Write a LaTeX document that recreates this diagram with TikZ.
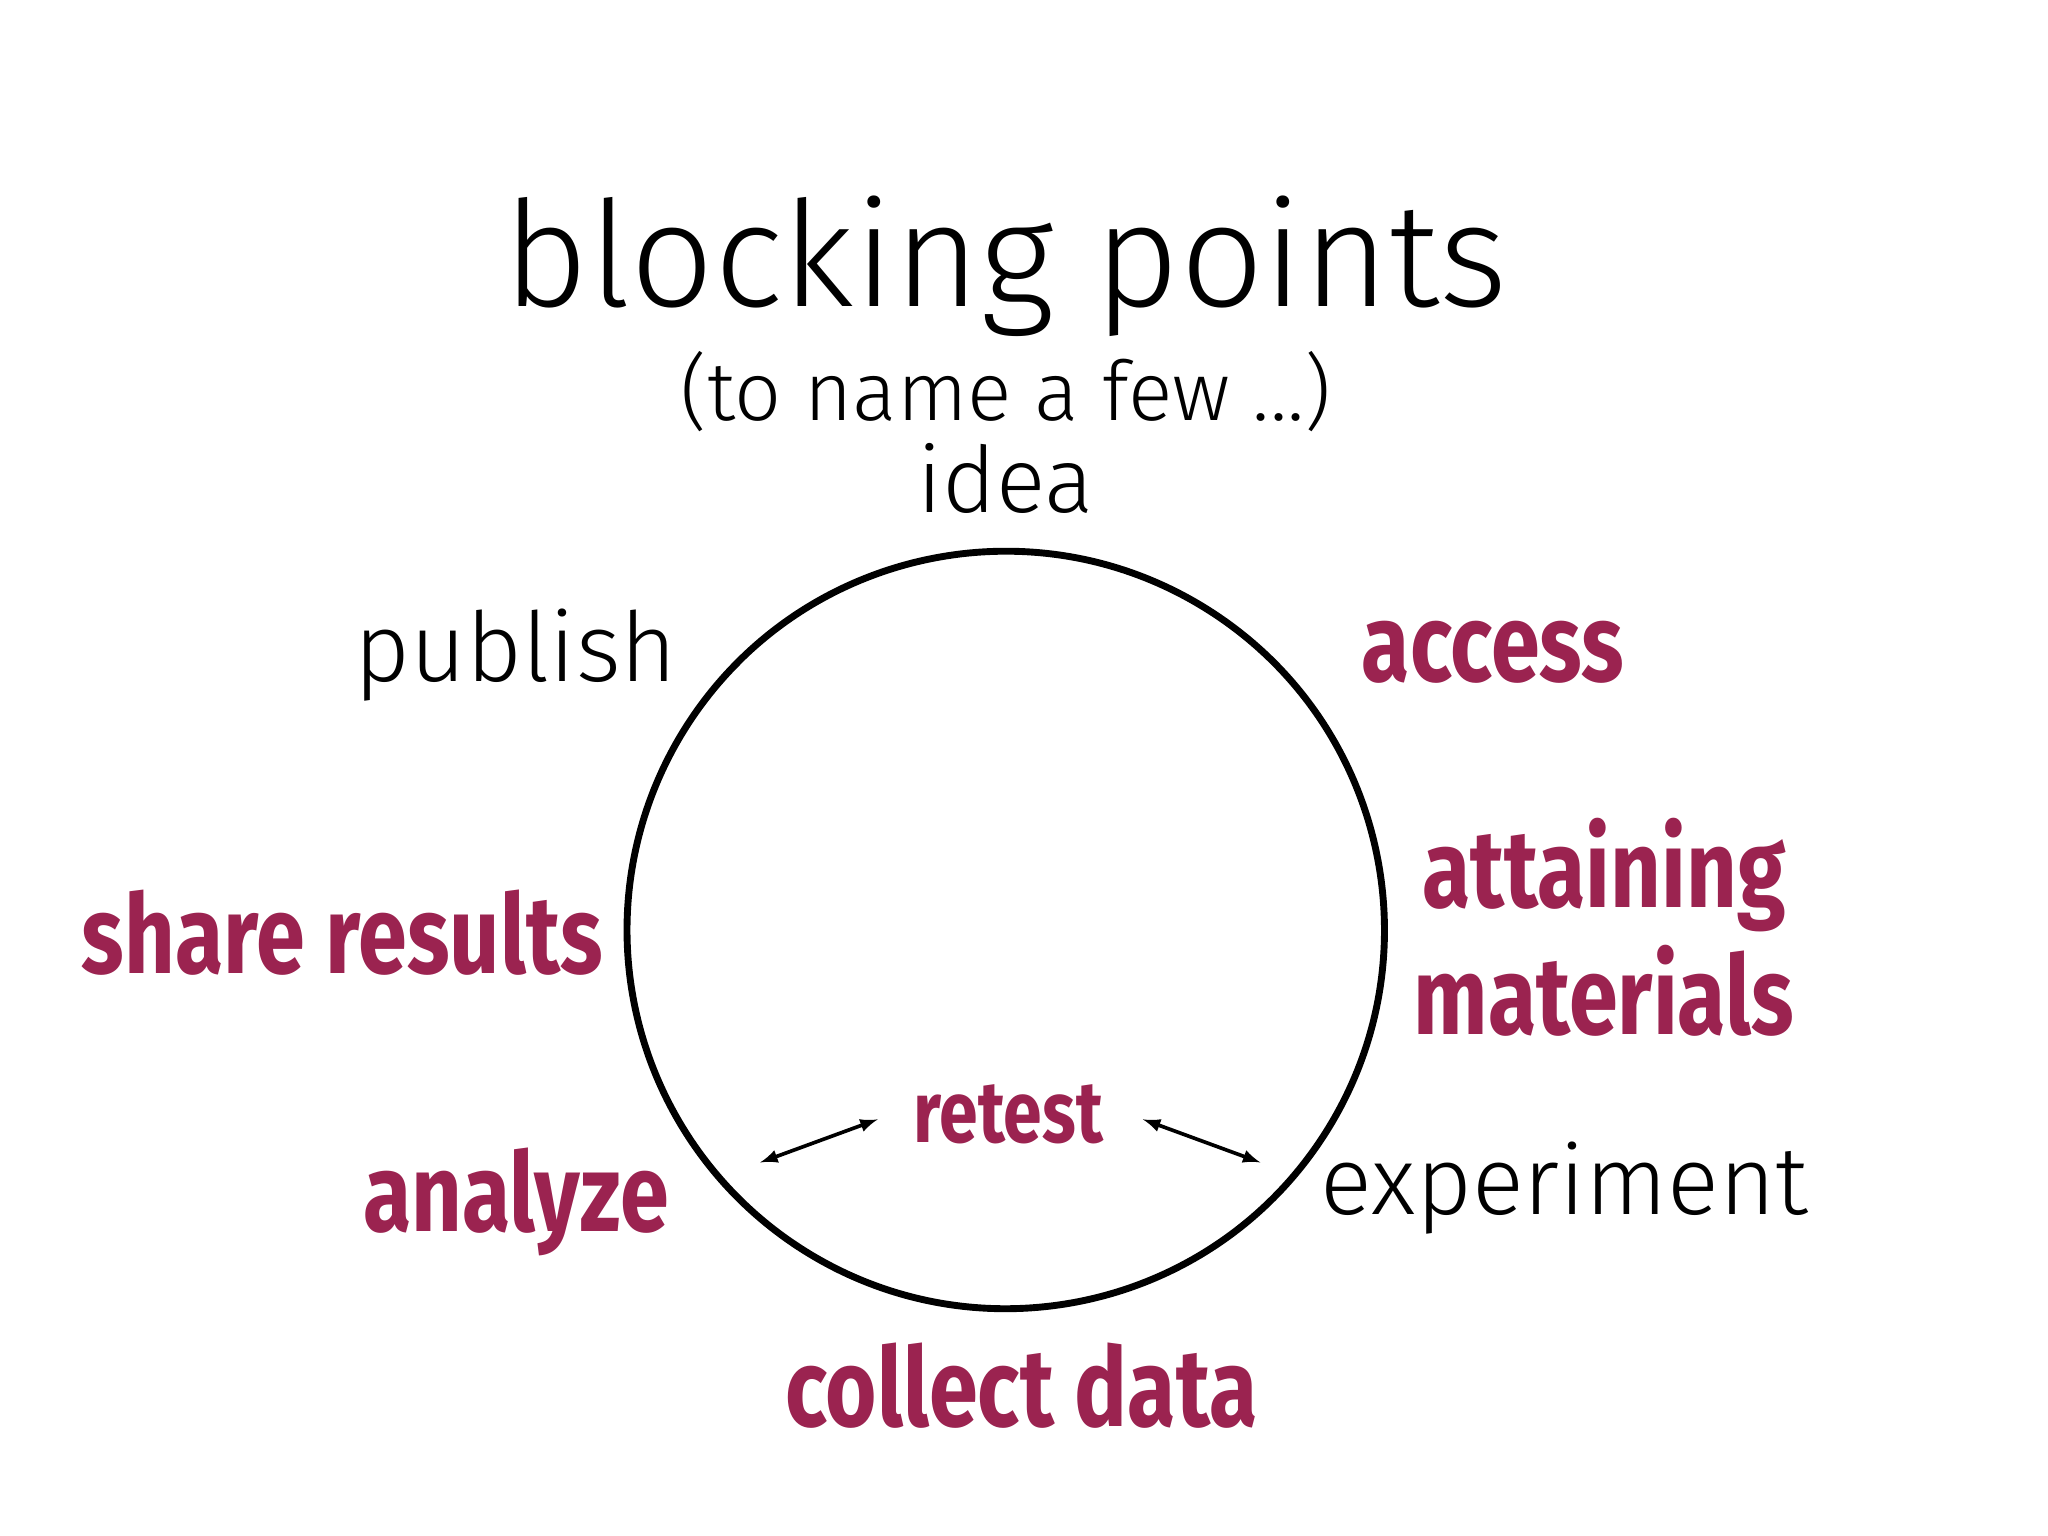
\documentclass[tikz,border=0pt]{standalone}
\usepackage{fontspec}
\setmainfont{Fira Sans}
\newfontfamily\thinf{Fira Sans Light}
\newfontfamily\boldf{Fira Sans Bold}
\definecolor{maroon}{HTML}{9B2350}
\newcommand{\bt}[2]{\scalebox{0.8}[1]{\fontsize{#1}{#1}\boldf #2}}
\begin{document}
\begin{tikzpicture}[x=0.02cm,y=-0.02cm,
  thin/.style={anchor=base,text=black,inner sep=0},
  hot/.style={anchor=base,text=maroon,inner sep=0},
  arr/.style={<->,>=latex,line width=1.6pt}]
\useasboundingbox (0,0) rectangle (1568,1176);
\fill[white] (0,0) rectangle (1568,1176);
\coordinate (c) at (770,712);
\draw[line width=3pt] (c) ++(148:5.8cm) arc[start angle=148, end angle=-225, radius=5.8cm];
\node[thin] (title) at (770,235) {\fontsize{64}{64}\thinf blocking points};
\node[thin] (sub) at (770,322) {\fontsize{36}{36}\thinf (to name a few ...)};
\node[thin] (idea) at (770,392) {\fontsize{40}{40}\thinf idea};
\node[thin] (publish) at (395,522) {\fontsize{42}{42}\thinf publish};
\node[thin] (exp) at (1198,930) {\fontsize{42}{42}\thinf experiment};
\node[hot] (access) at (1143,522) {\bt{48}{access}};
\node[hot] (att) at (1228,695) {\bt{48}{attaining}};
\node[hot] (mat) at (1228,792) {\bt{48}{materials}};
\node[hot] (share) at (262,745) {\bt{48}{share results}};
\node[hot] (analyze) at (395,943) {\bt{48}{analyze}};
\node[hot] (retest) at (772,875) {\bt{38}{retest}};
\node[hot] (collect) at (782,1092) {\bt{48}{collect data}};
\coordinate (l1) at (582,890); \coordinate (l2) at (672,857);
\coordinate (r1) at (875,857); \coordinate (r2) at (965,890);
\draw[arr] (l1) -- (l2);
\draw[arr] (r1) -- (r2);
\end{tikzpicture}
\end{document}
